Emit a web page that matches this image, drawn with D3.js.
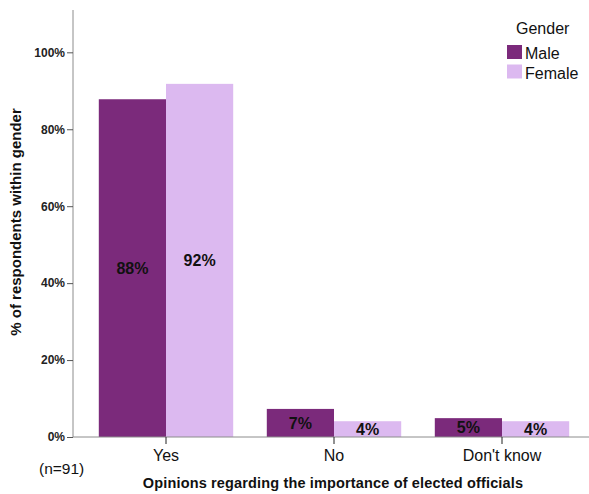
<!DOCTYPE html>
<html><head><meta charset="utf-8">
<script src="https://cdn.jsdelivr.net/npm/d3@7"></script>
<style>body{margin:0;background:#fff}svg{display:block;font-family:"Liberation Sans",Arial,sans-serif}</style>
</head><body><svg id="c" width="589" height="494"></svg>
<script>
const categories = ["Yes", "No", "Don't know"];
const seriesNames = ["Male", "Female"];
const maleValues = [87.8, 7.3, 4.9];
const femaleValues = [91.8, 4.1, 4.1];
const valueLabels = [["88%", "7%", "5%"], ["92%", "4%", "4%"]];
const yTicks = [0, 20, 40, 60, 80, 100];
const colors = ["#7b2a7b", "#dcb9f0"];

const svg = d3.select("#c");
const y = d3.scaleLinear().domain([0, 111]).range([437, 10]);
const x = d3.scaleBand().domain(categories).range([82, 586]).paddingInner(0.2).paddingOuter(0.1);
const xs = d3.scaleBand().domain(seriesNames).range([0, x.bandwidth()]);
const series = [maleValues, femaleValues];

// bars
series.forEach((vals, si) => {
  svg.append("g").selectAll("rect").data(vals).join("rect")
    .attr("x", (d, i) => x(categories[i]) + xs(seriesNames[si]))
    .attr("y", d => y(d))
    .attr("width", xs.bandwidth())
    .attr("height", d => y(0) - y(d))
    .attr("fill", colors[si]);
  svg.append("g").selectAll("text").data(vals).join("text")
    .attr("x", (d, i) => x(categories[i]) + xs(seriesNames[si]) + xs.bandwidth() / 2)
    .attr("y", d => (y(d) + y(0)) / 2)
    .attr("dy", "0.36em")
    .attr("text-anchor", "middle")
    .attr("font-size", 16).attr("font-weight", "bold").attr("fill", "#111")
    .text((d, i) => valueLabels[si][i]);
});

// y axis
const yAxis = svg.append("g").attr("transform", "translate(73,0)")
  .call(d3.axisLeft(y).tickValues(yTicks).tickFormat(d => d + "%").tickSize(6).tickSizeOuter(0));
yAxis.select(".domain").attr("d", "M0,10V437").attr("stroke", "#8c8c8c");
yAxis.selectAll(".tick line").attr("stroke", "#555");
yAxis.selectAll(".tick text").attr("font-size", 12).attr("font-weight", "bold").attr("fill", "#222")
  .attr("font-family", "'Liberation Sans', Arial, sans-serif").attr("x", -8);

// x axis
const xAxis = svg.append("g").attr("transform", "translate(0,437)")
  .call(d3.axisBottom(x).tickSize(7).tickSizeOuter(0));
xAxis.select(".domain").attr("d", "M73,0H589").attr("stroke", "#8c8c8c");
xAxis.selectAll(".tick line").attr("stroke", "#222");
xAxis.selectAll(".tick text").attr("font-size", 16).attr("fill", "#111")
  .attr("font-family", "'Liberation Sans', Arial, sans-serif").attr("y", 13);

// titles
svg.append("text").attr("transform", "translate(21,222) rotate(-90)")
  .attr("text-anchor", "middle").attr("font-size", 15).attr("font-weight", "bold").attr("fill", "#111")
  .text("% of respondents within gender");
svg.append("text").attr("x", 333).attr("y", 488).attr("text-anchor", "middle")
  .attr("font-size", 14.5).attr("font-weight", "bold").attr("letter-spacing", 0.15).attr("fill", "#111")
  .text("Opinions regarding the importance of elected officials");
svg.append("text").attr("x", 39).attr("y", 474).attr("font-size", 15.5).attr("fill", "#111").text("(n=91)");

// legend
svg.append("text").attr("x", 516).attr("y", 34).attr("font-size", 16).attr("fill", "#111").text("Gender");
seriesNames.forEach((s, i) => {
  svg.append("rect").attr("x", 507).attr("y", 45 + i * 19.5).attr("width", 15).attr("height", 14).attr("fill", colors[i]);
  svg.append("text").attr("x", 525).attr("y", 59 + i * 20).attr("font-size", 16).attr("fill", "#111").text(s);
});
</script></body></html>
